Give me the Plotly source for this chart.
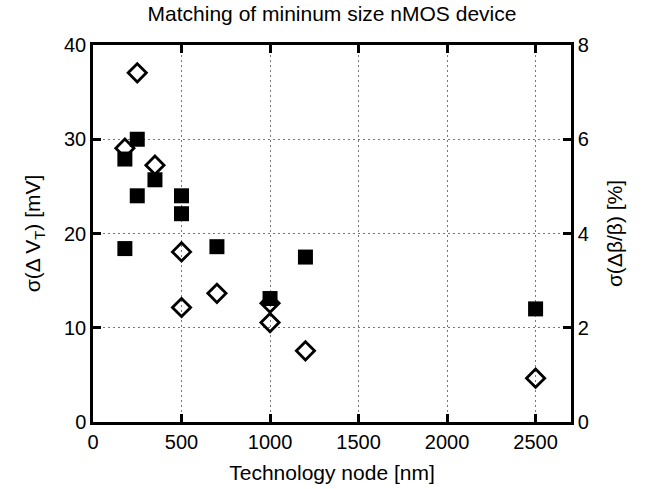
import plotly.graph_objects as go

# Data
vt_node = [250, 180, 350, 250, 500, 500, 180, 700, 1200, 1000, 2500]
vt_mv = [30.0, 27.9, 25.7, 24.0, 24.0, 22.1, 18.4, 18.6, 17.5, 13.1, 12.0]
beta_node = [250, 180, 350, 500, 500, 700, 1000, 1000, 1200, 2500]
beta_pct = [7.41, 5.81, 5.45, 3.61, 2.43, 2.73, 2.52, 2.11, 1.51, 0.93]

title_text = "Matching of mininum size nMOS device"
x_title = "Technology node [nm]"
y_title = "σ(Δ V<sub>T</sub>) [mV]"
y2_title = "σ(Δβ/β) [%]"
x_ticks = [0, 500, 1000, 1500, 2000, 2500]
y_ticks = [0, 10, 20, 30, 40]
y2_ticks = [0, 2, 4, 6, 8]

FONT = "Liberation Sans, Arial, Helvetica, sans-serif"
TICK_SIZE = 20
LABEL_SIZE = 21

fig = go.Figure()
fig.add_trace(go.Scatter(
    x=vt_node, y=vt_mv, mode="markers",
    marker=dict(symbol="square", size=15, color="black", line=dict(width=0)),
    showlegend=False, yaxis="y"))
fig.add_trace(go.Scatter(
    x=beta_node, y=beta_pct, mode="markers",
    marker=dict(symbol="diamond-open", size=14, color="black", line=dict(width=2.8, color="black")),
    showlegend=False, yaxis="y2"))

axis_common = dict(
    showline=True, linecolor="black", linewidth=2.5,
    ticks="inside", ticklen=8, tickwidth=2.5, tickcolor="black",
    tickfont=dict(family=FONT, size=TICK_SIZE, color="black"),
    zeroline=False, automargin=False,
)
grid_common = dict(showgrid=True, gridcolor="#777777", griddash="1.5px,3.5px", gridwidth=1)

fig.update_layout(
    width=647, height=489,
    margin=dict(l=93, r=76, t=45, b=67),
    paper_bgcolor="white", plot_bgcolor="white",
    title=dict(text=title_text, xref="paper", x=0.5, xanchor="center",
               yref="container", y=0.973, yanchor="middle",
               font=dict(family=FONT, size=LABEL_SIZE, color="black")),
    xaxis=dict(range=[0, 2700], tickvals=x_ticks, mirror="ticks",
               title=dict(text=x_title, font=dict(family=FONT, size=LABEL_SIZE, color="black"), standoff=14),
               **grid_common, **axis_common),
    yaxis=dict(range=[0, 40], tickvals=y_ticks, mirror=False,
               title=dict(text=y_title, font=dict(family=FONT, size=LABEL_SIZE, color="black"), standoff=18),
               **grid_common, **axis_common),
    yaxis2=dict(range=[0, 8], tickvals=y2_ticks, overlaying="y", side="right",
                showgrid=False,
                title=dict(text=y2_title, font=dict(family=FONT, size=LABEL_SIZE, color="black"), standoff=20),
                **axis_common),
)

fig.write_html("out.html")
